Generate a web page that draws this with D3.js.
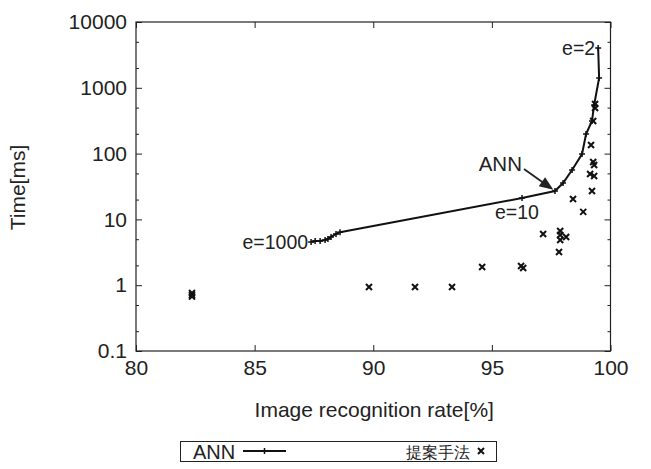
<!DOCTYPE html>
<html><head><meta charset="utf-8">
<script src="https://cdn.jsdelivr.net/npm/d3@7/dist/d3.min.js"></script>
<style>
body{margin:0;background:#fff;}
text{font-family:"Liberation Sans",Arial,sans-serif;fill:#222;}
</style></head>
<body><svg id="c" width="651" height="469"></svg>
<script>
// ANN series (recognition rate %, time ms)
const annRate = [87.38, 87.55, 87.76, 87.97, 88.09, 88.22, 88.43, 88.60, 96.27, 97.66, 98.00, 98.38, 98.80, 98.97, 99.22, 99.31, 99.52, 99.48];
const annTime = [4.54, 4.70, 4.70, 4.87, 5.04, 5.41, 6.0, 6.4, 21.1, 27.0, 35.7, 56.3, 98.6, 198, 313, 548, 1410, 4030];
// Proposed method (提案手法)
const propRate = [82.36, 82.36, 82.36, 89.82, 91.76, 93.32, 94.59, 96.23, 96.32, 97.16, 97.88, 97.88, 98.13, 97.88, 97.83, 98.42, 98.85, 99.22, 99.14, 99.31, 99.27, 99.31, 99.18, 99.27, 99.35, 99.35];
const propTime = [0.76, 0.71, 0.67, 0.94, 0.94, 0.94, 1.89, 1.96, 1.83, 6.0, 6.67, 5.79, 5.4, 4.86, 3.2, 20.4, 13.0, 27.0, 49.0, 45.7, 74.5, 67.1, 135, 313, 567, 493];
const xTicks = [80, 85, 90, 95, 100];
const yTicks = [0.1, 1, 10, 100, 1000, 10000];
const yTickLabels = ["0.1", "1", "10", "100", "1000", "10000"];
const yMinor = [0.2, 0.5, 2, 5, 20, 50, 200, 500, 2000, 5000];
const annLabels = [{i: 17, t: "e=2"}, {i: 8, t: "e=10"}, {i: 0, t: "e=1000"}];
const seriesNames = ["ANN", "提案手法"];
const axisTitles = {x: "Image recognition rate[%]", y: "Time[ms]"};

const svg = d3.select("#c");
const L = 136, R = 610.5, T = 22, B = 351;
const x = d3.scaleLinear().domain([80, 100]).range([L, R]);
const y = d3.scaleLog().domain([0.1, 10000]).range([B, T]);

function styleAxis(g){ g.select(".domain").remove(); g.selectAll(".tick line").attr("stroke","#222").attr("stroke-width",1); g.selectAll("text").attr("font-size",21).attr("fill","#222").attr("font-family","Liberation Sans, Arial, sans-serif"); }

// bottom axis
svg.append("g").attr("transform",`translate(0,${B})`)
  .call(d3.axisBottom(x).tickValues(xTicks).tickFormat(d3.format("d")).tickSize(-6).tickPadding(9)).call(styleAxis);
// top
svg.append("g").attr("transform",`translate(0,${T})`)
  .call(d3.axisTop(x).tickValues(xTicks).tickFormat("").tickSize(-6)).call(styleAxis);
// left
svg.append("g").attr("transform",`translate(${L},0)`)
  .call(d3.axisLeft(y).tickValues(yTicks).tickFormat((d,i)=>yTickLabels[i]).tickSize(-6).tickPadding(9)).call(styleAxis);
svg.append("g").attr("transform",`translate(${L},0)`)
  .call(d3.axisLeft(y).tickValues(yMinor).tickFormat("").tickSize(-3)).call(styleAxis);
// right
svg.append("g").attr("transform",`translate(${R},0)`)
  .call(d3.axisRight(y).tickValues(yTicks).tickFormat("").tickSize(-6)).call(styleAxis);
svg.append("g").attr("transform",`translate(${R},0)`)
  .call(d3.axisRight(y).tickValues(yMinor).tickFormat("").tickSize(-3)).call(styleAxis);

svg.append("rect").attr("x",L).attr("y",T).attr("width",R-L).attr("height",B-T)
  .attr("fill","none").attr("stroke","#222").attr("stroke-width",1.2);

// axis titles
svg.append("text").attr("x",(L+R)/2+1).attr("y",417).attr("text-anchor","middle").attr("font-size",21).text(axisTitles.x);
svg.append("text").attr("transform",`translate(25,${(T+B)/2+1}) rotate(-90)`).attr("text-anchor","middle").attr("font-size",21).text(axisTitles.y);

// ANN line
const ann = annRate.map((r,i)=>({r, t: annTime[i]}));
svg.append("path").datum(ann)
  .attr("d", d3.line().x(d=>x(d.r)).y(d=>y(d.t)))
  .attr("fill","none").attr("stroke","#111").attr("stroke-width",2);
function plus(g, cx, cy, s){ g.append("path").attr("d",`M${cx-s},${cy}H${cx+s}M${cx},${cy-s}V${cy+s}`).attr("stroke","#111").attr("stroke-width",1.5).attr("fill","none"); }
function cross(g, cx, cy, s){ g.append("path").attr("d",`M${cx-s},${cy-s}L${cx+s},${cy+s}M${cx-s},${cy+s}L${cx+s},${cy-s}`).attr("stroke","#111").attr("stroke-width",2).attr("fill","none"); }
const mk = svg.append("g");
ann.forEach(d=>plus(mk, x(d.r), y(d.t), 3));
propRate.forEach((r,i)=>cross(mk, x(r), y(propTime[i]), 3));

// point labels
const lab = svg.append("g");
annLabels.forEach(a=>{
  const px = x(annRate[a.i]), py = y(annTime[a.i]);
  if (a.t === "e=10") lab.append("text").attr("x",px-27).attr("y",py+21).attr("fill","#444").attr("font-size",19.5).text(a.t);
  else lab.append("text").attr("x",px-3).attr("y",py+7).attr("text-anchor","end").attr("fill","#444").attr("font-size",19.5).text(a.t);
});

// ANN annotation with arrow
const ax = x(annRate[9]), ay = y(annTime[9]);
svg.append("text").attr("x",ax-33).attr("y",ay-20).attr("text-anchor","end").attr("font-size",20.5).attr("fill","#333").text("ANN");
const sx = ax-31, sy = ay-22;
const ang = Math.atan2(ay-sy, ax-sx);
const hx = ax-2*Math.cos(ang), hy = ay-2*Math.sin(ang);
svg.append("line").attr("x1",sx).attr("y1",sy).attr("x2",hx-8*Math.cos(ang)).attr("y2",hy-8*Math.sin(ang)).attr("stroke","#222").attr("stroke-width",1.8);
const hl = 14, hw = 5.5;
const bx = hx-hl*Math.cos(ang), by = hy-hl*Math.sin(ang);
svg.append("path").attr("d",`M${hx},${hy}L${bx+hw*Math.sin(ang)},${by-hw*Math.cos(ang)}L${bx-hw*Math.sin(ang)},${by+hw*Math.cos(ang)}Z`).attr("fill","#222");

// legend
const lg = svg.append("g");
lg.append("rect").attr("x",180.5).attr("y",441.5).attr("width",316).attr("height",20).attr("fill","none").attr("stroke","#222").attr("stroke-width",1);
lg.append("text").attr("x",193).attr("y",459).attr("font-size",20).text(seriesNames[0]);
lg.append("line").attr("x1",243).attr("x2",286).attr("y1",451).attr("y2",451).attr("stroke","#111").attr("stroke-width",1.8);
plus(lg, 264.5, 451, 3);
lg.append("text").attr("x",406).attr("y",458).attr("font-size",16).attr("font-family","Noto Sans CJK JP").text(seriesNames[1]);
cross(lg, 481, 451, 3);
</script></body></html>
